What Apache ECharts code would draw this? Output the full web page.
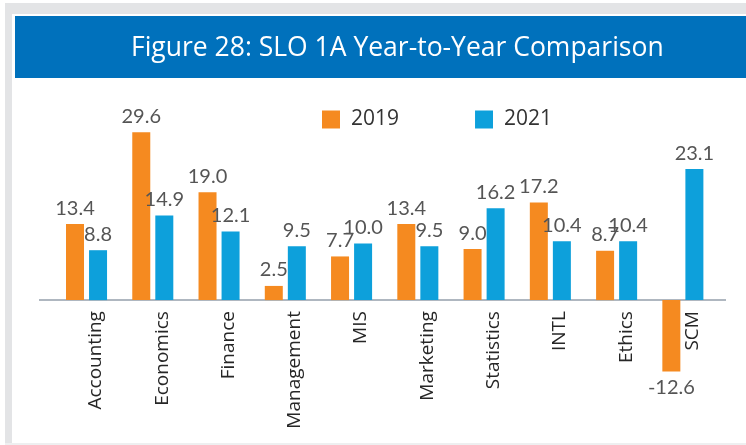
<!DOCTYPE html>
<html>
<head>
<meta charset="utf-8">
<script src="https://cdn.jsdelivr.net/npm/echarts@6/dist/echarts.min.js"></script>
<style>
  html, body { margin: 0; padding: 0; background: #fff; }
  #chart { width: 746px; height: 445px; }
</style>
</head>
<body>
<div id="chart"></div>
<script>
// data
var categories = ["Accounting", "Economics", "Finance", "Management", "MIS",
  "Marketing", "Statistics", "INTL", "Ethics", "SCM"];
var values2019 = [13.4, 29.6, 19.0, 2.5, 7.7, 13.4, 9.0, 17.2, 8.7, -12.6];
var values2021 = [8.8, 14.9, 12.1, 9.5, 10.0, 9.5, 16.2, 10.4, 10.4, 23.1];
var seriesNames = ["2019", "2021"];

var ORANGE = "#F58A20";
var BLUE = "#0DA0DB";
var AXIS_GRAY = "#AFB7C0";

// negative values get their label under the bar
function toItems(arr) {
  return arr.map(function (v) {
    return v < 0 ? { value: v, label: { position: "bottom" } } : v;
  });
}

var barLabel = {
  show: true,
  position: "top",
  distance: 6,
  fontFamily: "Lato",
  fontSize: 20,
  color: "#555",
  formatter: function (p) { return p.value.toFixed(1); }
};

var chart = echarts.init(document.getElementById("chart"));
var option = {
  animation: false,
  title: {
    text: "Figure 28: SLO 1A Year-to-Year Comparison",
    left: 126,
    top: 30,
    textStyle: { color: "#fff", fontFamily: "Open Sans", fontSize: 26.5, fontWeight: "normal" }
  },
  legend: {
    data: seriesNames,
    left: 317,
    top: 104,
    icon: "rect",
    itemWidth: 18,
    itemHeight: 18,
    itemGap: 76,
    textStyle: { fontFamily: "Open Sans", fontSize: 21, color: "#333", padding: [0, 0, 0, 6] }
  },
  grid: { left: 53.4, right: 30, top: 130, bottom: 31.5, outerBoundsMode: "none", containLabel: false },
  xAxis: {
    type: "category",
    data: categories,
    offset: 0,
    axisLine: { show: true, onZero: false, lineStyle: { color: AXIS_GRAY, width: 2 } },
    axisTick: { show: false },
    axisLabel: {
      rotate: 90,
      align: "right",
      verticalAlign: "top",
      margin: 11,
      interval: 0,
      fontFamily: "Open Sans",
      fontSize: 19,
      color: "#262626"
    }
  },
  yAxis: {
    type: "value",
    min: -20,
    max: 30,
    show: false,
    splitLine: { show: false }
  },
  series: [
    {
      name: seriesNames[0],
      type: "bar",
      data: toItems(values2019),
      itemStyle: { color: ORANGE },
      barWidth: 18,
      barGap: "28%",
      label: barLabel
    },
    {
      name: seriesNames[1],
      type: "bar",
      data: toItems(values2021),
      itemStyle: { color: BLUE },
      barWidth: 18,
      barGap: "28%",
      label: barLabel
    }
  ]
};
chart.setOption(option);

// move the category axis (line + labels) up to the zero of the value scale
var zeroY = chart.convertToPixel({ yAxisIndex: 0 }, 0);
var bottomY = chart.convertToPixel({ yAxisIndex: 0 }, option.yAxis.min);
chart.setOption({
  xAxis: { offset: zeroY - bottomY },
  graphic: [
    { type: "rect", z: -10, shape: { x: 5, y: 3, width: 741, height: 11 }, style: { fill: "#E3E4E6" } },
    { type: "rect", z: -10, shape: { x: 5, y: 3, width: 7, height: 442 }, style: { fill: "#E3E4E6" } },
    { type: "rect", z: -10, shape: { x: 5, y: 443, width: 741, height: 2 }, style: { fill: "#EEEFF0" } },
    { type: "rect", z: -5, shape: { x: 15, y: 16, width: 731, height: 62 }, style: { fill: "#0071BC" } },
    { type: "line", z: -1, shape: { x1: 39, y1: zeroY, x2: 726, y2: zeroY }, style: { stroke: AXIS_GRAY, lineWidth: 2 } }
  ]
});
</script>
</body>
</html>
